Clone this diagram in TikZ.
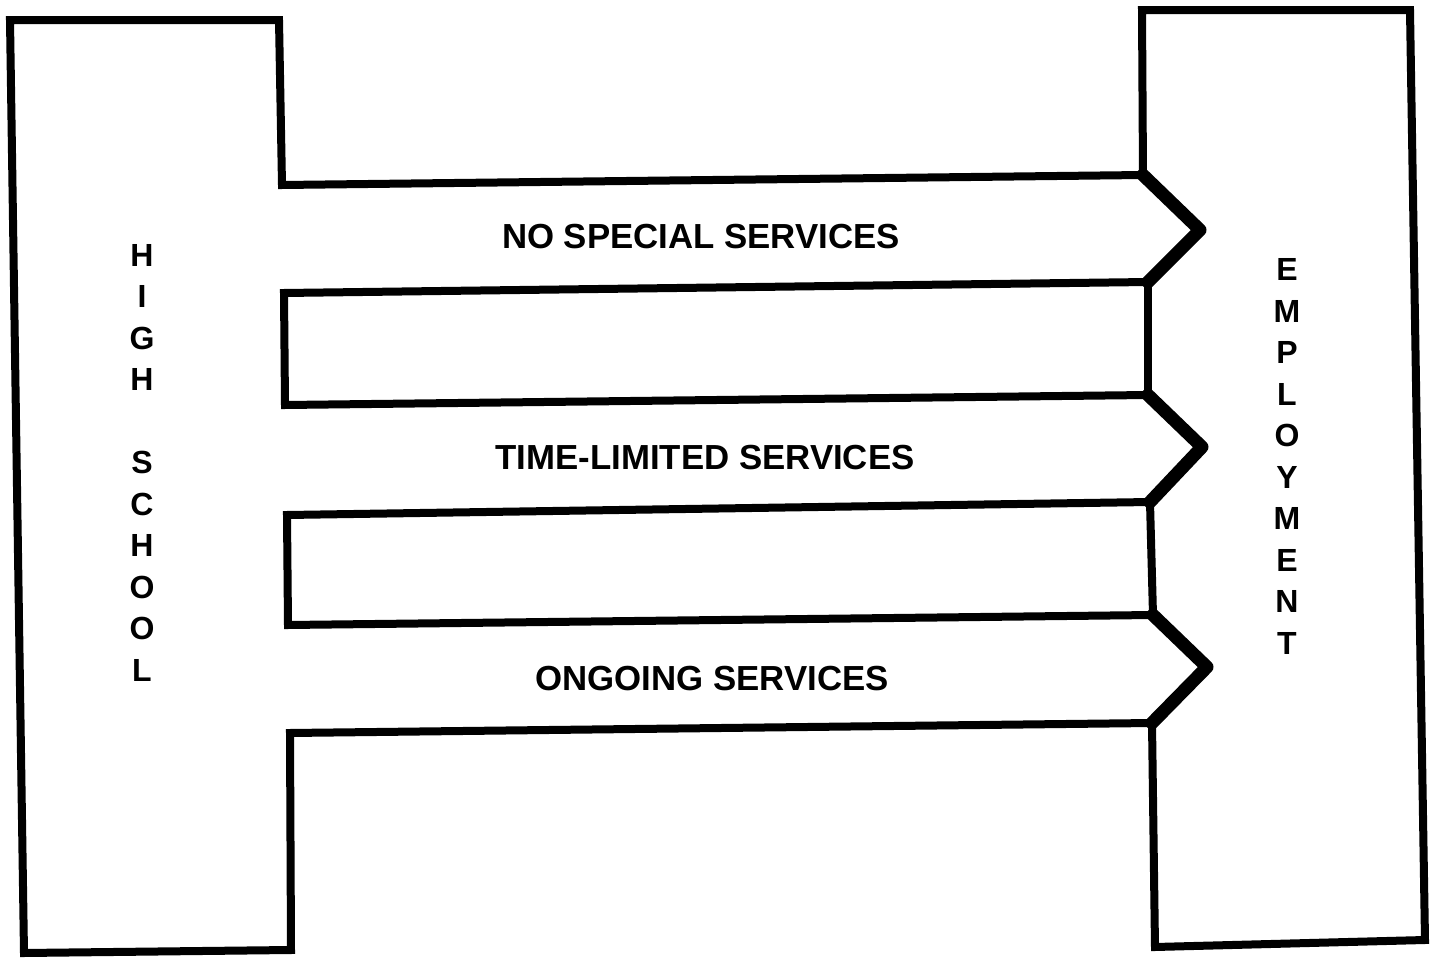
\documentclass[tikz,border=0pt]{standalone}
\usepackage{fontspec}
\setmainfont{Liberation Sans}
\begin{document}
\begin{tikzpicture}[x=0.5pt,y=-0.5pt,
  outline/.style={line width=4pt, line join=miter, line cap=rect},
  tipline/.style={line width=6.5pt, line join=round, line cap=round},
  lbl/.style={font=\fontsize{17.4}{20}\selectfont\bfseries, inner sep=0pt},
  vlbl/.style={font=\fontsize{16}{20.75}\selectfont\bfseries, inner sep=0pt, align=center}]
\useasboundingbox (0,0) rectangle (1432,958);
% corner coordinates of the bands
\coordinate (a1t) at (1143,175); \coordinate (a1p) at (1200,230); \coordinate (a1b) at (1148,282);
\coordinate (a2t) at (1148,395); \coordinate (a2p) at (1202,447); \coordinate (a2b) at (1150,502);
\coordinate (a3t) at (1153,615); \coordinate (a3p) at (1207,667); \coordinate (a3b) at (1152,723);
% high school outline with bands
\draw[outline] (a1t) -- (282,185) -- (279,20) -- (10,20) -- (24,953) -- (291,950) -- (290,733) -- (a3b);
\draw[outline] (a1b) -- (284,293) -- (285,405) -- (a2t);
\draw[outline] (a2b) -- (287,515) -- (288,625) -- (a3t);
% employment box
\draw[outline] (a1t) -- (1142,10) -- (1410,10) -- (1425,940) -- (1155,947) -- (a3b);
\draw[outline] (a1b) -- (a2t);
\draw[outline] (a2b) -- (a3t);
% arrow tips
\draw[tipline] (a1t) -- (a1p) -- (a1b);
\draw[tipline] (a2t) -- (a2p) -- (a2b);
\draw[tipline] (a3t) -- (a3p) -- (a3b);
% labels
\node[lbl] (nss) at (701,237) {NO SPECIAL SERVICES};
\node[lbl] (tls) at (705,458) {TIME-LIMITED SERVICES};
\node[lbl] (ogs) at (712,679) {ONGOING SERVICES};
\node[vlbl] (hs) at (142,462.5) {H\\I\\G\\H\\\strut\\S\\C\\H\\O\\O\\L};
\node[vlbl] (emp) at (1287,456.5) {E\\M\\P\\L\\O\\Y\\M\\E\\N\\T};
\end{tikzpicture}
\end{document}
